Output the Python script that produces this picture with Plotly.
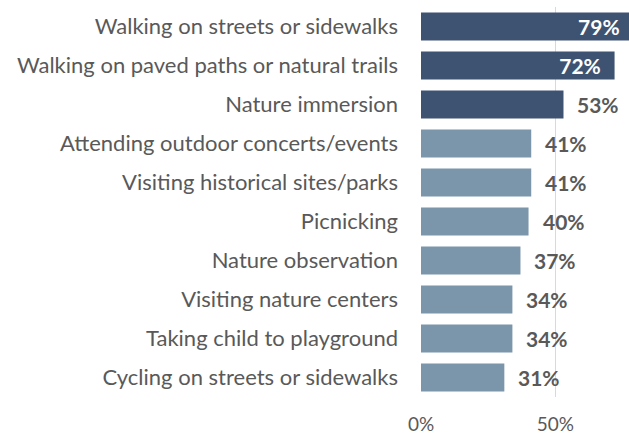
import plotly.graph_objects as go

categories = [
    "Walking on streets or sidewalks",
    "Walking on paved paths or natural trails",
    "Nature immersion",
    "Attending outdoor concerts/events",
    "Visiting historical sites/parks",
    "Picnicking",
    "Nature observation",
    "Visiting nature centers",
    "Taking child to playground",
    "Cycling on streets or sidewalks",
]
values = [79, 72, 53, 41, 41, 40, 37, 34, 34, 31]
highlight = [True, True, True, False, False, False, False, False, False, False]
label_inside = [True, True, False, False, False, False, False, False, False, False]
x_ticks = [0, 50]
x_ticklabels = ["0%", "50%"]

DARK = "#3e5372"
LIGHT = "#7b96ab"
GRAY = "#595959"
FONT = "Lato"
NB = "\u00a0"

colors = [DARK if h else LIGHT for h in highlight]
texts = [f"<b>{v}%</b>{NB*2}" if ins else "" for v, ins in zip(values, label_inside)]

fig = go.Figure(go.Bar(
    x=values, y=categories, orientation="h",
    marker=dict(color=colors, line=dict(width=0)),
    text=texts, textposition="inside", insidetextanchor="end",
    textfont=dict(family=FONT, size=21, color="white"),
    constraintext="none", cliponaxis=False,
    hoverinfo="skip",
))

for v, c, ins in zip(values, categories, label_inside):
    if not ins:
        fig.add_annotation(
            x=v, y=c, xref="x", yref="y", text=f"<b>{v}%</b>",
            showarrow=False, xanchor="left", xshift=12,
            font=dict(family=FONT, size=21, color=GRAY),
        )

# the top bar runs past the right edge of the window in the reference,
# so the figure is slightly wider than the 629px window and the page clips it
fig.update_layout(
    width=635, height=434,
    margin=dict(l=421, r=0, t=7, b=37, autoexpand=False),
    paper_bgcolor="white", plot_bgcolor="white",
    bargap=0.28, showlegend=False,
    font=dict(family=FONT, color=GRAY),
)
fig.update_xaxes(
    range=[0, 79.6], tickvals=x_ticks, ticktext=x_ticklabels,
    showgrid=True, gridcolor="#d9d9d9", gridwidth=1.5,
    zeroline=False, showline=False, ticks="",
    ticklabelstandoff=14,
    tickfont=dict(family=FONT, size=19, color=GRAY),
    automargin=False,
)
fig.update_yaxes(
    categoryorder="array", categoryarray=categories, autorange="reversed",
    showgrid=False, zeroline=False, showline=False, ticks="",
    ticklabelstandoff=22,
    tickfont=dict(family=FONT, size=22, color=GRAY),
    automargin=False,
)

fig.write_html(
    "out.html",
    config={"displayModeBar": False, "staticPlot": True},
    post_script="document.body.style.margin='0';document.body.style.overflow='hidden';",
)
